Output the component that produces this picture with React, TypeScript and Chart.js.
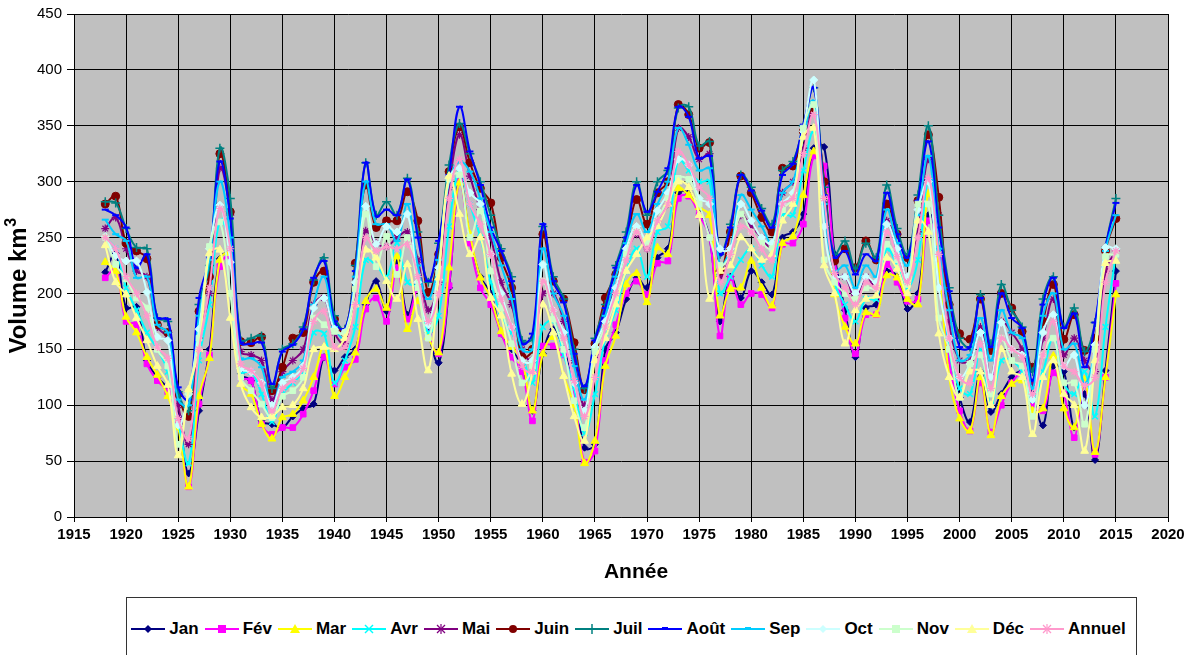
import React, { useEffect, useRef } from "react";
import { Chart, registerables } from "chart.js";

Chart.register(...registerables);

const years = [
  1918, 1919, 1920, 1921, 1922, 1923, 1924, 1925, 1926, 1927,
  1928, 1929, 1930, 1931, 1932, 1933, 1934, 1935, 1936, 1937,
  1938, 1939, 1940, 1941, 1942, 1943, 1944, 1945, 1946, 1947,
  1948, 1949, 1950, 1951, 1952, 1953, 1954, 1955, 1956, 1957,
  1958, 1959, 1960, 1961, 1962, 1963, 1964, 1965, 1966, 1967,
  1968, 1969, 1970, 1971, 1972, 1973, 1974, 1975, 1976, 1977,
  1978, 1979, 1980, 1981, 1982, 1983, 1984, 1985, 1986, 1987,
  1988, 1989, 1990, 1991, 1992, 1993, 1994, 1995, 1996, 1997,
  1998, 1999, 2000, 2001, 2002, 2003, 2004, 2005, 2006, 2007,
  2008, 2009, 2010, 2011, 2012, 2013, 2014, 2015,
];

const jan = [
  219, 236, 187, 188, 140, 125, 115, 90, 39, 95,
  150, 231, 236, 128, 122, 86, 83, 80, 90, 97,
  101, 143, 131, 143, 150, 190, 211, 184, 229, 181,
  208, 165, 138, 205, 303, 250, 215, 200, 164, 150,
  135, 95, 146, 168, 150, 120, 62, 65, 150, 165,
  195, 214, 205, 232, 240, 290, 290, 275, 250, 175,
  215, 196, 220, 210, 199, 250, 255, 271, 330, 331,
  235, 185, 143, 187, 190, 220, 215, 186, 200, 270,
  240, 150, 107, 85, 130, 94, 110, 125, 130, 110,
  82, 135, 130, 80, 110, 51, 131, 220,
];
const fev = [
  214, 222, 175, 172, 137, 122, 112, 85, 27, 101,
  145, 224, 234, 125, 122, 83, 74, 80, 80, 92,
  113, 143, 119, 134, 141, 186, 196, 175, 223, 177,
  204, 164, 146, 207, 300, 245, 205, 190, 164, 143,
  130, 86, 153, 153, 145, 110, 49, 59, 140, 172,
  200, 211, 199, 227, 229, 285, 287, 270, 250, 162,
  214, 190, 200, 199, 187, 244, 245, 262, 323, 314,
  230, 178, 146, 181, 181, 226, 210, 193, 195, 265,
  230, 140, 95, 77, 120, 76, 100, 120, 128, 101,
  95, 129, 110, 71, 120, 56, 125, 209,
];
const mar = [
  228, 220, 179, 165, 143, 127, 108, 80, 27, 108,
  142, 230, 236, 119, 110, 83, 70, 89, 92, 104,
  125, 152, 108, 125, 147, 193, 204, 187, 233, 168,
  193, 161, 147, 223, 299, 253, 214, 196, 166, 152,
  140, 95, 146, 161, 126, 100, 48, 68, 135, 162,
  208, 218, 192, 241, 235, 294, 288, 277, 270, 180,
  204, 205, 229, 205, 189, 245, 251, 288, 327, 290,
  199, 170, 155, 183, 181, 216, 214, 195, 190, 289,
  225, 125, 88, 77, 125, 73, 108, 119, 122, 95,
  97, 144, 97, 80, 123, 58, 125, 199,
];
const avr = [
  250, 240, 205, 185, 165, 150, 130, 85, 48, 140,
  190, 265, 245, 130, 130, 110, 85, 110, 120, 130,
  165, 164, 120, 140, 170, 230, 225, 215, 245, 210,
  205, 165, 180, 260, 310, 280, 250, 210, 180, 165,
  145, 120, 170, 175, 145, 115, 75, 110, 160, 185,
  220, 240, 215, 255, 260, 320, 310, 300, 300, 200,
  215, 230, 240, 225, 215, 270, 270, 310, 345, 300,
  210, 190, 175, 195, 195, 240, 225, 205, 230, 300,
  240, 150, 115, 110, 150, 100, 140, 140, 130, 105,
  130, 160, 120, 110, 130, 90, 170, 235,
];
const mai = [
  258, 268, 240, 220, 215, 170, 160, 100, 65, 160,
  200, 312, 270, 148, 145, 140, 105, 130, 140, 150,
  190, 196, 165, 155, 200, 256, 245, 242, 250, 255,
  230, 185, 210, 295, 342, 305, 275, 250, 210, 190,
  150, 140, 200, 200, 175, 140, 100, 145, 185, 205,
  235, 253, 240, 265, 280, 348, 340, 320, 325, 215,
  235, 270, 260, 250, 240, 290, 300, 330, 365, 300,
  215, 215, 195, 215, 205, 265, 240, 215, 255, 320,
  270, 175, 140, 140, 170, 125, 175, 165, 150, 120,
  160, 195, 145, 160, 140, 130, 220, 238,
];
const juin = [
  280, 287, 245, 238, 231, 172, 165, 110, 90, 184,
  215, 325, 273, 157, 156, 161, 113, 134, 160, 165,
  210, 220, 177, 165, 227, 297, 259, 265, 265, 291,
  265, 201, 235, 309, 349, 317, 294, 281, 232, 205,
  143, 150, 253, 211, 195, 156, 114, 155, 196, 217,
  245, 284, 262, 290, 300, 369, 360, 330, 335, 220,
  255, 305, 290, 268, 255, 312, 314, 345, 366, 300,
  229, 240, 223, 247, 230, 280, 253, 232, 283, 342,
  286, 190, 164, 159, 195, 149, 200, 187, 166, 134,
  175, 208, 159, 181, 149, 160, 238, 267,
];
const juil = [
  282, 281, 258, 241, 240, 178, 175, 112, 95, 190,
  225, 330, 285, 158, 160, 162, 115, 150, 155, 170,
  212, 232, 180, 168, 225, 317, 270, 282, 270, 303,
  255, 210, 245, 315, 352, 325, 300, 270, 240, 215,
  158, 160, 260, 215, 195, 150, 115, 160, 190, 225,
  255, 300, 270, 300, 310, 366, 367, 332, 336, 235,
  262, 306, 295, 276, 262, 310, 318, 350, 384, 295,
  235, 247, 222, 245, 232, 297, 258, 235, 288, 350,
  270, 205, 160, 152, 199, 155, 208, 185, 170, 130,
  195, 215, 170, 187, 148, 174, 241, 285,
];
const aout = [
  275, 270, 259, 223, 235, 178, 177, 116, 105, 196,
  232, 318, 267, 156, 155, 156, 119, 148, 154, 168,
  214, 229, 175, 168, 220, 317, 269, 275, 270, 302,
  250, 211, 247, 306, 367, 327, 297, 259, 238, 211,
  155, 164, 262, 211, 192, 146, 117, 158, 187, 223,
  250, 297, 273, 291, 312, 367, 358, 321, 323, 235,
  259, 306, 292, 274, 259, 306, 316, 351, 384, 288,
  232, 238, 217, 235, 229, 290, 253, 232, 283, 336,
  259, 202, 152, 152, 196, 152, 200, 178, 169, 122,
  190, 214, 169, 182, 134, 174, 241, 281,
];
const sep = [
  266, 253, 247, 214, 215, 172, 165, 105, 100, 180,
  230, 300, 250, 142, 142, 134, 98, 125, 130, 140,
  190, 215, 170, 160, 215, 300, 262, 262, 247, 280,
  225, 195, 230, 300, 318, 309, 285, 255, 225, 195,
  150, 150, 240, 200, 180, 135, 105, 150, 180, 215,
  245, 271, 255, 280, 300, 348, 333, 310, 312, 225,
  240, 288, 275, 260, 245, 290, 300, 340, 372, 280,
  220, 225, 205, 225, 215, 275, 245, 225, 270, 323,
  240, 185, 140, 145, 178, 140, 185, 165, 160, 115,
  180, 200, 150, 155, 120, 150, 238, 270,
];
const oct = [
  251, 234, 229, 229, 201, 161, 158, 82, 110, 168,
  240, 279, 228, 133, 130, 120, 100, 120, 125, 135,
  187, 196, 168, 165, 210, 278, 244, 260, 255, 271,
  210, 172, 223, 303, 312, 290, 280, 235, 200, 170,
  140, 140, 226, 185, 165, 120, 95, 152, 175, 205,
  240, 260, 247, 274, 290, 320, 315, 285, 280, 240,
  240, 280, 265, 250, 245, 280, 290, 345, 391, 260,
  215, 215, 200, 215, 210, 262, 240, 215, 275, 300,
  205, 160, 125, 137, 165, 125, 174, 150, 145, 105,
  165, 181, 135, 145, 100, 154, 241, 240,
];
const nov = [
  250, 226, 213, 196, 187, 150, 135, 65, 112, 160,
  242, 264, 200, 125, 113, 101, 89, 108, 113, 125,
  178, 172, 166, 165, 204, 271, 224, 251, 217, 250,
  205, 160, 218, 303, 306, 250, 274, 220, 187, 155,
  120, 135, 211, 177, 150, 104, 80, 148, 170, 196,
  235, 255, 245, 265, 285, 303, 302, 280, 250, 225,
  235, 271, 255, 245, 240, 275, 285, 348, 369, 230,
  210, 200, 195, 205, 205, 244, 230, 208, 280, 280,
  178, 150, 107, 137, 145, 110, 160, 140, 135, 90,
  145, 160, 120, 120, 83, 150, 233, 235,
];
const dec = [
  243, 210, 199, 178, 158, 135, 118, 55, 114, 150,
  236, 239, 178, 119, 98, 89, 90, 98, 100, 115,
  150, 152, 150, 160, 190, 239, 232, 211, 195, 226,
  177, 131, 214, 305, 271, 235, 250, 196, 180, 128,
  101, 130, 190, 165, 126, 90, 68, 140, 160, 190,
  220, 235, 250, 260, 280, 300, 295, 270, 195, 220,
  225, 250, 240, 230, 235, 265, 280, 340, 348, 225,
  200, 155, 185, 195, 198, 232, 222, 200, 265, 255,
  164, 125, 107, 130, 130, 100, 150, 130, 125, 74,
  125, 140, 110, 100, 59, 140, 227, 229,
];
const annuel = [
  250, 240, 215, 200, 180, 152, 142, 88, 70, 150,
  205, 276, 240, 137, 131, 119, 95, 115, 122, 133,
  175, 184, 152, 152, 190, 250, 238, 242, 240, 244,
  215, 175, 200, 285, 320, 280, 262, 235, 195, 170,
  135, 130, 211, 185, 160, 122, 90, 125, 170, 200,
  230, 255, 240, 265, 280, 327, 315, 295, 285, 210,
  235, 260, 255, 240, 230, 280, 285, 325, 360, 285,
  218, 205, 190, 210, 205, 255, 233, 210, 250, 303,
  235, 160, 125, 120, 155, 115, 160, 150, 143, 110,
  145, 175, 135, 130, 118, 125, 210, 238,
];

const yTicks = [0, 50, 100, 150, 200, 250, 300, 350, 400, 450];
const xTicks = [1915, 1920, 1925, 1930, 1935, 1940, 1945, 1950, 1955, 1960, 1965, 1970, 1975, 1980, 1985, 1990, 1995, 2000, 2005, 2010, 2015, 2020];

const FONT = '"Liberation Sans", Arial, sans-serif';

type S = { label: string; data: number[]; color: string; ps: string; r: number; bw: number };

const series: S[] = [
  { label: "Jan", data: jan, color: "#000080", ps: "rectRot", r: 3.5, bw: 1 },
  { label: "Fév", data: fev, color: "#FF00FF", ps: "rect", r: 4, bw: 1 },
  { label: "Mar", data: mar, color: "#FFFF00", ps: "triangle", r: 4.5, bw: 1 },
  { label: "Avr", data: avr, color: "#00FFFF", ps: "crossRot", r: 4, bw: 1.5 },
  { label: "Mai", data: mai, color: "#800080", ps: "star", r: 4, bw: 1.2 },
  { label: "Juin", data: juin, color: "#800000", ps: "circle", r: 4, bw: 1 },
  { label: "Juil", data: juil, color: "#008080", ps: "cross", r: 4.5, bw: 1.5 },
  { label: "Août", data: aout, color: "#0000FF", ps: "line", r: 3.5, bw: 2 },
  { label: "Sep", data: sep, color: "#00CCFF", ps: "line", r: 3.5, bw: 2 },
  { label: "Oct", data: oct, color: "#CCFFFF", ps: "rectRot", r: 4, bw: 1 },
  { label: "Nov", data: nov, color: "#CCFFCC", ps: "rect", r: 4, bw: 1 },
  { label: "Déc", data: dec, color: "#FFFF99", ps: "triangle", r: 4.5, bw: 1 },
  { label: "Annuel", data: annuel, color: "#FF99CC", ps: "star", r: 4, bw: 1.2 },
];

const bgPlugin = {
  id: "bgTitles",
  beforeDraw(chart: any) {
    const { ctx, chartArea: a } = chart;
    ctx.save();
    ctx.fillStyle = "#FFFFFF";
    ctx.fillRect(0, 0, chart.width, chart.height);
    ctx.fillStyle = "#C0C0C0";
    ctx.fillRect(a.left, a.top, a.right - a.left, a.bottom - a.top);
    ctx.restore();
  },
  afterDraw(chart: any) {
    const ctx = chart.ctx;
    // Y axis title with superscript
    ctx.save();
    ctx.fillStyle = "#000";
    ctx.textBaseline = "alphabetic";
    ctx.textAlign = "left";
    const mainFont = `bold 24px ${FONT}`;
    const supFont = `bold 16px ${FONT}`;
    ctx.font = mainFont;
    const w1 = ctx.measureText("Volume km").width;
    ctx.font = supFont;
    const w2 = ctx.measureText("3").width;
    const total = w1 + w2;
    ctx.translate(26, 286);
    ctx.rotate(-Math.PI / 2);
    ctx.font = mainFont;
    ctx.fillText("Volume km", -total / 2, 0);
    ctx.font = supFont;
    ctx.fillText("3", -total / 2 + w1 + 0.5, -10);
    ctx.restore();
    // X axis title
    ctx.save();
    ctx.fillStyle = "#000";
    ctx.textAlign = "center";
    ctx.textBaseline = "middle";
    ctx.font = `bold 21px ${FONT}`;
    ctx.fillText("Année", 636, 572);
    ctx.restore();
  },
};

function Marker({ ps, color }: { ps: string; color: string }) {
  const cx = 17, cy = 7;
  switch (ps) {
    case "rectRot":
      return <polygon points={`${cx},${cy - 4} ${cx + 4},${cy} ${cx},${cy + 4} ${cx - 4},${cy}`} fill={color} />;
    case "rect":
      return <rect x={cx - 4} y={cy - 4} width={8} height={8} fill={color} />;
    case "triangle":
      return <polygon points={`${cx},${cy - 5} ${cx + 5},${cy + 4} ${cx - 5},${cy + 4}`} fill={color} />;
    case "crossRot":
      return (
        <g stroke={color} strokeWidth={1.5}>
          <line x1={cx - 4} y1={cy - 4} x2={cx + 4} y2={cy + 4} />
          <line x1={cx - 4} y1={cy + 4} x2={cx + 4} y2={cy - 4} />
        </g>
      );
    case "star":
      return (
        <g stroke={color} strokeWidth={1.2}>
          <line x1={cx - 4} y1={cy - 4} x2={cx + 4} y2={cy + 4} />
          <line x1={cx - 4} y1={cy + 4} x2={cx + 4} y2={cy - 4} />
          <line x1={cx} y1={cy - 5} x2={cx} y2={cy + 5} />
        </g>
      );
    case "circle":
      return <circle cx={cx} cy={cy} r={4} fill={color} />;
    case "cross":
      return (
        <g stroke={color} strokeWidth={1.5}>
          <line x1={cx} y1={cy - 5} x2={cx} y2={cy + 5} />
          <line x1={cx - 5} y1={cy} x2={cx + 5} y2={cy} />
        </g>
      );
    case "line":
      return <line x1={cx - 3} y1={cy - 1} x2={cx + 3} y2={cy - 1} stroke={color} strokeWidth={2} />;
    default:
      return null;
  }
}

export default function App() {
  const ref = useRef<HTMLCanvasElement | null>(null);

  useEffect(() => {
    if (!ref.current) return;
    const datasets = series.map((s, i) => ({
      label: s.label,
      data: years.map((yr, k) => ({ x: yr, y: s.data[k] })),
      borderColor: s.color,
      backgroundColor: s.color,
      borderWidth: 2,
      tension: 0.4,
      pointStyle: s.ps,
      pointRadius: s.r,
      pointBorderWidth: s.bw,
      pointBackgroundColor: s.color,
      pointBorderColor: s.color,
      fill: false,
      order: series.length - 1 - i,
    }));
    const chart = new Chart(ref.current, {
      type: "line",
      data: { datasets } as any,
      plugins: [bgPlugin as any],
      options: {
        responsive: false,
        animation: false,
        layout: { padding: { left: 0, right: 24, top: 12, bottom: 0 } },
        plugins: { legend: { display: false }, tooltip: { enabled: false } },
        scales: {
          x: {
            type: "linear",
            min: xTicks[0],
            max: xTicks[xTicks.length - 1],
            afterFit: (s: any) => {
              s.height = 78;
            },
            afterBuildTicks: (s: any) => {
              s.ticks = xTicks.map((v) => ({ value: v }));
            },
            ticks: {
              autoSkip: false,
              maxRotation: 0,
              color: "#000",
              font: { family: FONT, size: 15, weight: "bold" },
              padding: 4,
              callback: (v: any) => String(v),
            },
            grid: { color: "#000", lineWidth: 1, tickLength: 5, tickColor: "#000" },
            border: { color: "#000", width: 1 },
          },
          y: {
            min: yTicks[0],
            max: yTicks[yTicks.length - 1],
            afterFit: (s: any) => {
              s.width = 74;
            },
            afterBuildTicks: (s: any) => {
              s.ticks = yTicks.map((v) => ({ value: v }));
            },
            ticks: {
              color: "#000",
              font: { family: FONT, size: 15 },
              padding: 5,
              callback: (v: any) => String(v),
            },
            grid: { color: "#000", lineWidth: 1, tickLength: 7, tickColor: "#000" },
            border: { color: "#000", width: 1 },
          },
        },
      } as any,
    });
    return () => chart.destroy();
  }, []);

  return (
    <div style={{ position: "absolute", left: 0, top: 0, width: 1192, height: 655, overflow: "hidden", background: "#fff" }}>
      <canvas ref={ref} width={1192} height={595} style={{ display: "block", width: 1192, height: 595 }} />
      <div
        style={{
          position: "absolute",
          left: 126,
          top: 597,
          width: 1011,
          height: 80,
          border: "1px solid #333",
          boxSizing: "border-box",
          background: "#fff",
        }}
      >
        <div
          style={{
            position: "absolute",
            left: 0,
            right: 0,
            top: 22,
            height: 18,
            display: "flex",
            justifyContent: "center",
            alignItems: "center",
          }}
        >
          {series.map((s) => (
            <div key={s.label} style={{ display: "flex", alignItems: "center", marginRight: 6 }}>
              <svg width={34} height={14} style={{ display: "block" }}>
                <line x1={0} y1={7} x2={34} y2={7} stroke={s.color} strokeWidth={2} />
                <Marker ps={s.ps} color={s.color} />
              </svg>
              <span
                style={{
                  marginLeft: 4,
                  fontFamily: FONT,
                  fontWeight: "bold",
                  fontSize: 17,
                  lineHeight: "18px",
                  color: "#000",
                  whiteSpace: "nowrap",
                }}
              >
                {s.label}
              </span>
            </div>
          ))}
        </div>
      </div>
    </div>
  );
}
